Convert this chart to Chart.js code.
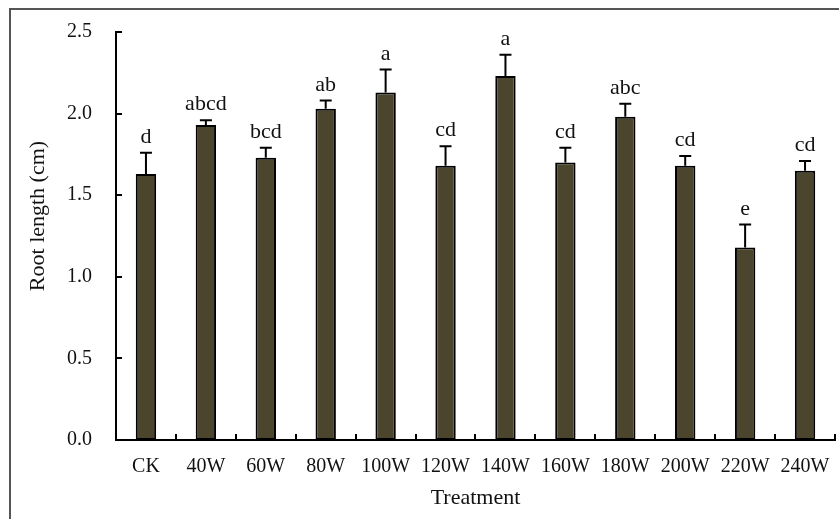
<!DOCTYPE html>
<html>
<head>
<meta charset="utf-8">
<script src="https://cdn.jsdelivr.net/npm/chart.js@4/dist/chart.umd.min.js"></script>
<style>
  html, body { margin: 0; padding: 0; background: #fff; }
  #wrap { width: 839px; height: 519px; position: relative; }
</style>
</head>
<body>
<div id="wrap"><canvas id="rootChart" width="839" height="519"></canvas></div>
<script>
// Root length by treatment, mean + SD with significance letters
const treatments = ["CK", "40W", "60W", "80W", "100W", "120W", "140W", "160W", "180W", "200W", "220W", "240W"];
const rootLength = [1.63, 1.93, 1.73, 2.03, 2.13, 1.68, 2.23, 1.70, 1.98, 1.68, 1.18, 1.65];
const rootSD = [0.13, 0.03, 0.06, 0.05, 0.14, 0.12, 0.13, 0.09, 0.08, 0.06, 0.14, 0.06];
const sigLetters = ["d", "abcd", "bcd", "ab", "a", "cd", "a", "cd", "abc", "cd", "e", "cd"];
const yTicks = [0, 0.5, 1.0, 1.5, 2.0, 2.5];

const serif = "'Liberation Serif', 'Times New Roman', serif";

// error bars, letters, inward tick marks, y title and the outer frame
const extras = {
  id: "extras",
  afterDatasetsDraw(chart) {
    const { ctx, scales: { x, y }, chartArea } = chart;
    const meta = chart.getDatasetMeta(0);
    ctx.save();
    ctx.strokeStyle = "#000";
    ctx.lineWidth = 2;
    meta.data.forEach((bar, i) => {
      const top = y.getPixelForValue(rootLength[i] + rootSD[i]);
      ctx.beginPath();
      ctx.moveTo(bar.x, bar.y);
      ctx.lineTo(bar.x, top);
      ctx.moveTo(bar.x - 6, top);
      ctx.lineTo(bar.x + 6, top);
      ctx.stroke();
      ctx.fillStyle = "#111";
      ctx.font = "22px " + serif;
      ctx.textAlign = "center";
      ctx.textBaseline = "alphabetic";
      ctx.fillText(sigLetters[i], bar.x, top - 10);
    });

    // y ticks pointing into the plot
    yTicks.forEach(v => {
      const py = Math.round(y.getPixelForValue(v));
      ctx.beginPath();
      ctx.moveTo(chartArea.left, py);
      ctx.lineTo(chartArea.left + 6, py);
      ctx.stroke();
    });
    // x ticks between categories
    const step = x.getPixelForValue(1) - x.getPixelForValue(0);
    for (let i = 0; i < treatments.length; i++) {
      const px = Math.round(x.getPixelForValue(i) + step / 2);
      ctx.beginPath();
      ctx.moveTo(px, chartArea.bottom);
      ctx.lineTo(px, chartArea.bottom - 6);
      ctx.stroke();
    }

    // y axis title, sits a little above the plot's middle
    ctx.save();
    ctx.translate(38, 216);
    ctx.rotate(-Math.PI / 2);
    ctx.fillStyle = "#111";
    ctx.font = "22px " + serif;
    ctx.textAlign = "center";
    ctx.textBaseline = "middle";
    ctx.fillText("Root length (cm)", 0, 0);
    ctx.restore();

    // frame around the whole figure
    ctx.strokeStyle = "#555";
    ctx.beginPath();
    ctx.moveTo(10, 530);
    ctx.lineTo(10, 9);
    ctx.lineTo(850, 9);
    ctx.stroke();
    ctx.restore();
  }
};

new Chart(document.getElementById("rootChart").getContext("2d"), {
  type: "bar",
  data: {
    labels: treatments,
    datasets: [{
      data: rootLength,
      backgroundColor: "#4b452e",
      borderColor: "#000",
      borderWidth: 2,
      borderSkipped: false,
      categoryPercentage: 1,
      barPercentage: 0.34
    }]
  },
  options: {
    responsive: false,
    animation: false,
    events: [],
    layout: { padding: { top: 32, right: 4, left: 0, bottom: 0 } },
    plugins: { legend: { display: false }, tooltip: { enabled: false } },
    scales: {
      x: {
        afterFit(scale) { scale.height = 79; },
        grid: { display: false },
        border: { display: true, color: "#000", width: 2 },
        ticks: { color: "#111", font: { family: serif, size: 20 }, padding: 7, maxRotation: 0, autoSkip: false },
        title: { display: true, text: "Treatment", color: "#111", font: { family: serif, size: 22 }, padding: { top: 4, bottom: 8 } }
      },
      y: {
        min: 0,
        max: 2.5,
        afterFit(scale) { scale.width = 116; },
        afterBuildTicks(scale) { scale.ticks = yTicks.map(v => ({ value: v })); },
        grid: { display: false },
        border: { display: true, color: "#000", width: 2 },
        ticks: { color: "#111", font: { family: serif, size: 20 }, padding: 16, callback: v => v.toFixed(1) }
      }
    }
  },
  plugins: [extras]
});
</script>
</body>
</html>
